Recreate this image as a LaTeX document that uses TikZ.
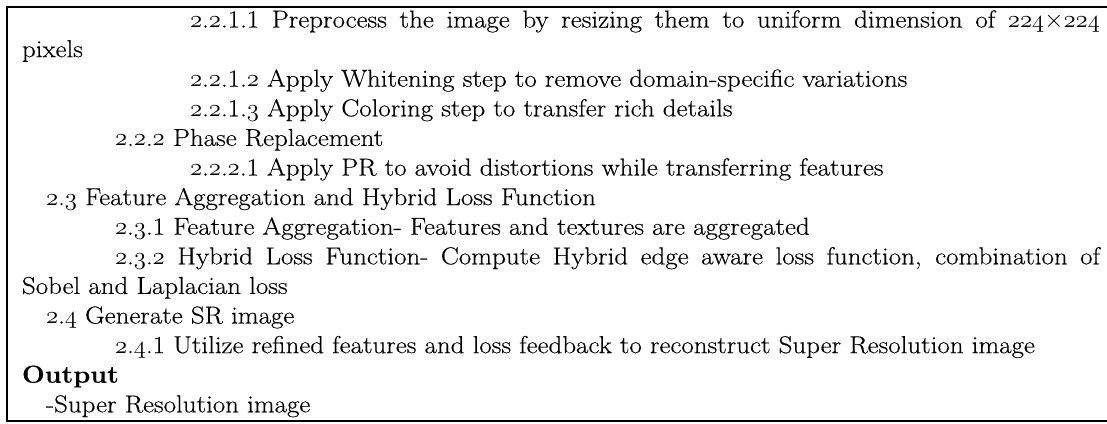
\documentclass[tikz,border=0pt]{standalone}
\usepackage{fontspec}
% slightly widened and darkened roman for the body text
\setmainfont{Latin Modern Roman}[FakeStretch=1.1, FakeBold=0.3]
% old-style figures taken from the math italic font
\newcommand\os[1]{{\fontsize{26.5bp}{29bp}\usefont{OML}{cmm}{m}{it}#1}}
\newcommand\tms{\ensuremath{\times}}
\tikzset{
  row/.style={anchor=base west, inner sep=0pt, outer sep=0pt,
    font=\fontsize{24.5bp}{29bp}\selectfont},
  frame/.style={line width=2bp, line join=miter}
}
\begin{document}
\begin{tikzpicture}[x=1bp,y=-1bp]
\useasboundingbox (0,0) rectangle (1107,423);
% box outline, open on the right where it runs off the page
\draw[frame] (1110,7) -- (7,7) -- (7,421) -- (1110,421);

\node[row] (l1) at (190,27.5) {\hbox to 910bp{\os2.\os2.1.1 Preprocess the image by resizing them to uniform dimension of \os{224}\tms\os{224}}};
\node[row] (l2) at (22,57.1) {pixels};
\node[row] (l3) at (190,86.7) {\os2.\os2.1.\os2 Apply Whitening step to remove domain-specific variations};
\node[row] (l4) at (190,116.3) {\os2.\os2.1.\os3 Apply Coloring step to transfer rich details};
\node[row] (l5) at (115,145.9) {\os2.\os2.\os2 Phase Replacement};
\node[row] (l6) at (190,175.5) {\os2.\os2.\os2.1 Apply PR to avoid distortions while transferring features};
\node[row] (l7) at (46,205.1) {\os2.\os3 Feature Aggregation and Hybrid Loss Function};
\node[row] (l8) at (115,234.7) {\os2.\os3.1 Feature Aggregation- Features and textures are aggregated};
\node[row] (l9) at (115,264.3) {\hbox to 985bp{\os2.\os3.\os2 Hybrid Loss Function- Compute Hybrid edge aware loss function, combination of}};
\node[row] (l10) at (22,293.9) {Sobel and Laplacian loss};
\node[row] (l11) at (46,323.5) {\os2.\os4 Generate SR image};
\node[row] (l12) at (115,353.1) {\os2.\os4.1 Utilize refined features and loss feedback to reconstruct Super Resolution image};
\node[row] (l13) at (22,382.7) {\textbf{Output}};
\node[row] (l14) at (46,412.3) {-Super Resolution image};
\end{tikzpicture}
\end{document}
